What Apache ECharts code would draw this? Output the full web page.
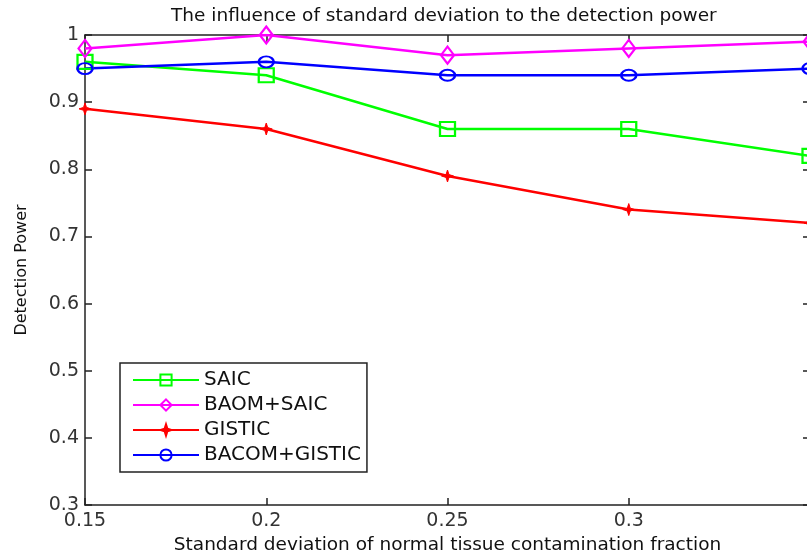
<!DOCTYPE html>
<html>
<head>
<meta charset="utf-8">
<script src="https://cdn.jsdelivr.net/npm/echarts@6/dist/echarts.min.js"></script>
<style>html,body{margin:0;padding:0;background:#fff;overflow:hidden}#c{width:807px;height:559px}</style>
</head>
<body>
<div id="c"></div>
<script>
var xValues = [0.15, 0.2, 0.25, 0.3, 0.35];
var saic = [0.96, 0.94, 0.86, 0.86, 0.82];
var baomSaic = [0.98, 1.0, 0.97, 0.98, 0.99];
var gistic = [0.89, 0.86, 0.79, 0.74, 0.72];
var bacomGistic = [0.95, 0.96, 0.94, 0.94, 0.95];
var seriesNames = ['SAIC', 'BAOM+SAIC', 'GISTIC', 'BACOM+GISTIC'];
var titleText = 'The influence of standard deviation to the detection power';
var xName = 'Standard deviation of normal tissue contamination fraction';
var yName = 'Detection Power';

function pairs(ys) { return xValues.map(function (x, i) { return [x, ys[i]]; }); }
function fmt(v) { return String(parseFloat(v.toFixed(2))); }

var FONT = 'DejaVu Sans';
var AX = '#222';
var starPath = 'path://M5,0 L6.2,3.8 L10,5 L6.2,6.2 L5,10 L3.8,6.2 L0,5 L3.8,3.8 Z';

function mkSeries(name, data, color, symbol, size, filled) {
  return {
    name: name, type: 'line', data: pairs(data),
    symbol: symbol, symbolSize: size,
    lineStyle: { color: color, width: 2.5 },
    itemStyle: filled ? { color: color, borderColor: color, borderWidth: 1 }
                      : { color: 'none', borderColor: color, borderWidth: 2.2 },
    emphasis: { disabled: true },
    z: 3
  };
}

var chart = echarts.init(document.getElementById('c'), null, { renderer: 'canvas', width: 807, height: 559 });
chart.setOption({
  animation: false,
  backgroundColor: '#fff',
  title: {
    text: titleText, left: 166, top: 2,
    textStyle: { fontFamily: FONT, fontSize: 18.5, fontWeight: 'normal', color: '#111' }
  },
  grid: { left: 85, top: 35, right: -3, bottom: 54, containLabel: false, outerBoundsMode: 'none' },
  legend: {
    orient: 'vertical', left: 120, top: 363,
    itemWidth: 66, itemHeight: 14, itemGap: 3,
    padding: [6, 6, 6, 12],
    borderColor: AX, borderWidth: 1.5, backgroundColor: '#fff',
    textStyle: { fontFamily: FONT, fontSize: 20, lineHeight: 22, color: '#111' },
    data: seriesNames
  },
  xAxis: [{
    type: 'value', min: 0.15, max: 0.35, interval: 0.05,
    name: xName, nameLocation: 'middle', nameGap: 29,
    nameTextStyle: { fontFamily: FONT, fontSize: 18.5, color: '#111' },
    axisLine: { lineStyle: { color: AX, width: 1.5 } },
    axisTick: { inside: true, length: 7, lineStyle: { color: AX, width: 1.5 } },
    axisLabel: { fontFamily: FONT, fontSize: 19, color: '#333', margin: 7,
      formatter: function (v) { return v > 0.34 ? '' : fmt(v); } },
    splitLine: { show: false }
  }, {
    type: 'value', position: 'top', min: 0.15, max: 0.35, interval: 0.05,
    axisLine: { show: true, lineStyle: { color: AX, width: 1.5 } },
    axisTick: { inside: true, length: 7, lineStyle: { color: AX, width: 1.5 } },
    axisLabel: { show: false }, splitLine: { show: false }
  }],
  yAxis: [{
    type: 'value', min: 0.3, max: 1, interval: 0.1,
    name: yName, nameLocation: 'middle', nameGap: 55,
    nameTextStyle: { fontFamily: FONT, fontSize: 16, color: '#111' },
    axisLine: { show: true, lineStyle: { color: AX, width: 1.5 } },
    axisTick: { show: true, inside: true, length: 7, lineStyle: { color: AX, width: 1.5 } },
    axisLabel: { fontFamily: FONT, fontSize: 19, color: '#333', margin: 6, formatter: fmt },
    splitLine: { show: false }
  }, {
    type: 'value', position: 'right', min: 0.3, max: 1, interval: 0.1,
    axisLine: { show: true, lineStyle: { color: AX, width: 1.5 } },
    axisTick: { show: true, inside: true, length: 7, lineStyle: { color: AX, width: 1.5 } },
    axisLabel: { show: false }, splitLine: { show: false }
  }],
  series: [
    mkSeries(seriesNames[0], saic, '#00ff00', 'rect', [15, 14], false),
    mkSeries(seriesNames[1], baomSaic, '#ff00ff', 'diamond', [13, 17], false),
    mkSeries(seriesNames[2], gistic, '#ff0000', starPath, 12, true),
    mkSeries(seriesNames[3], bacomGistic, '#0000ff', 'circle', [15, 11], false)
  ]
});
</script>
</body>
</html>
